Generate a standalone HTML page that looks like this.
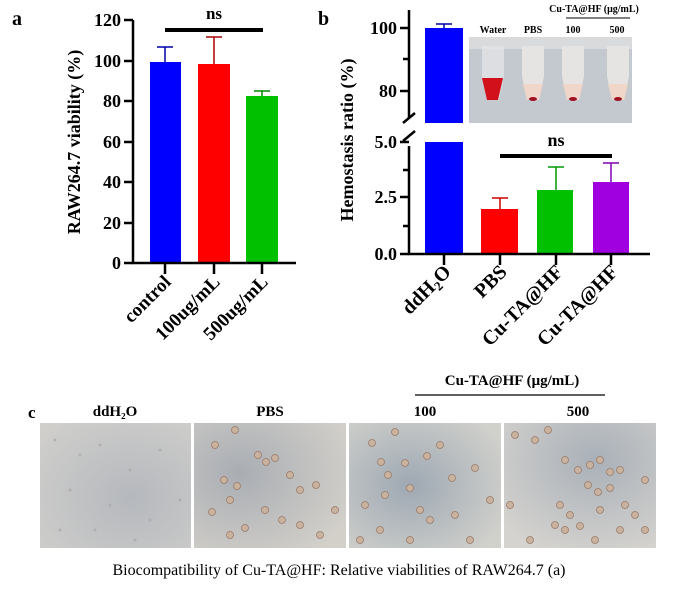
<!DOCTYPE html>
<html><head><meta charset="utf-8"><style>
body{margin:0;background:#fff}
svg{display:block;font-family:"Liberation Serif",serif}
</style></head><body>
<svg width="678" height="592" viewBox="0 0 678 592" xmlns="http://www.w3.org/2000/svg">
<defs>
<radialGradient id="bg1" cx="0.6" cy="0.6" r="0.8"><stop offset="0" stop-color="#b5b8bd"/><stop offset="1" stop-color="#d0cfcc"/></radialGradient>
<radialGradient id="bg2" cx="0.3" cy="0.4" r="0.8"><stop offset="0" stop-color="#a9adb3"/><stop offset="1" stop-color="#d3d0ca"/></radialGradient>
<radialGradient id="bg3" cx="0.4" cy="0.5" r="0.7"><stop offset="0" stop-color="#9ea8b3"/><stop offset="1" stop-color="#d1d1cc"/></radialGradient>
<radialGradient id="bg4" cx="0.6" cy="0.3" r="0.8"><stop offset="0" stop-color="#a9b0b8"/><stop offset="1" stop-color="#d5d3cf"/></radialGradient>
</defs>
<g font-weight="bold" fill="#000">
<text x="12" y="25" font-size="20">a</text>
<text x="214" y="19" font-size="17" text-anchor="middle">ns</text>
<line x1="165" y1="30" x2="263" y2="30" stroke="#000" stroke-width="4"/>
<rect x="150" y="62" width="31" height="201" fill="#0000ff"/>
<rect x="198" y="64" width="32" height="199" fill="#ff0000"/>
<rect x="246" y="96" width="32" height="167" fill="#00c000"/>
<g stroke-width="1.5" fill="none">
<path d="M165 62V47M157 47H173" stroke="#0000aa"/>
<path d="M214 64V37M206 37H222" stroke="#aa0000"/>
<path d="M262 96V91M254 91H270" stroke="#008800"/>
</g>
<g stroke="#000" stroke-width="2.5" fill="none">
<path d="M133 20V263H296"/>
<path d="M124 20H133M124 61H133M124 101H133M124 142H133M124 182H133M124 223H133M124 263H133"/>
<path d="M165 263V274M214 263V274M262 263V274"/>
</g>
<g font-size="18" text-anchor="end">
<text x="121" y="26">120</text><text x="121" y="67">100</text><text x="121" y="107">80</text>
<text x="121" y="148">60</text><text x="121" y="188">40</text><text x="121" y="229">20</text><text x="121" y="269">0</text>
</g>
<text transform="translate(80,142) rotate(-90)" font-size="18" text-anchor="middle">RAW264.7 viability (%)</text>
<g font-size="19" text-anchor="end">
<text transform="translate(172,283) rotate(-45)">control</text>
<text transform="translate(221,283) rotate(-45)">100ug/mL</text>
<text transform="translate(269,283) rotate(-45)">500ug/mL</text>
</g>
<text x="318" y="25" font-size="20">b</text>
<rect x="425" y="28" width="38" height="95" fill="#0000ff"/>
<rect x="425" y="142" width="38" height="112" fill="#0000ff"/>
<path d="M444 28V24M436 24H452" stroke="#0000aa" stroke-width="1.5"/>
<rect x="481" y="209" width="37" height="45" fill="#ff0000"/>
<rect x="537" y="190" width="36" height="64" fill="#00c000"/>
<rect x="593" y="182" width="36" height="72" fill="#a000e0"/>
<g stroke-width="1.5" fill="none">
<path d="M500 209V198M492 198H508" stroke="#cc0000"/>
<path d="M556 190V167M548 167H564" stroke="#009900"/>
<path d="M611 182V163M603 163H619" stroke="#8000b0"/>
</g>
<text x="556" y="146" font-size="18" text-anchor="middle">ns</text>
<line x1="500" y1="156" x2="612" y2="156" stroke="#000" stroke-width="4"/>
<g stroke="#000" stroke-width="2.5" fill="none">
<path d="M409 10V118"/>
<path d="M409 146V254H650"/>
<path d="M403 123L415 113M403 141L415 131"/>
<path d="M400 28H409M403 59H409M400 91H409"/>
<path d="M400 142H409M403 170H409M400 197H409M403 226H409M400 254H409"/>
<path d="M444 254V265M500 254V265M556 254V265M611 254V265"/>
</g>
<g font-size="18" text-anchor="end">
<text x="397" y="34">100</text><text x="397" y="97">80</text>
<text x="397" y="148">5.0</text><text x="397" y="203">2.5</text><text x="397" y="260">0.0</text>
</g>
<text transform="translate(353,140) rotate(-90)" font-size="18" text-anchor="middle">Hemostasis ratio (%)</text>
<g font-size="20" text-anchor="end">
<text transform="translate(452,273) rotate(-45)">ddH<tspan font-size="13" dy="4">2</tspan><tspan dy="-4">O</tspan></text>
<text transform="translate(508,273) rotate(-45)">PBS</text>
<text transform="translate(564,273) rotate(-45)">Cu-TA@HF</text>
<text transform="translate(619,273) rotate(-45)">Cu-TA@HF</text>
</g>
<rect x="469" y="37" width="163" height="86" fill="#c4c9cf"/>
<rect x="469" y="37" width="163" height="12" fill="#d8dadc"/>
<g>
<path d="M482 46h22v30l-5 24h-12l-5-24z" fill="#e2e4e6" opacity="0.8"/>
<path d="M482 78h21l-5 22h-11z" fill="#d2101c"/>
<path d="M522 46h22v30l-5 24h-12l-5-24z" fill="#e6e4e2"/>
<path d="M523 84h20l-4 16h-12z" fill="#efd6c8"/><ellipse cx="533" cy="99" rx="4" ry="2" fill="#a01020"/>
<path d="M562 46h22v30l-5 24h-12l-5-24z" fill="#e6e4e2"/>
<path d="M563 84h20l-4 16h-12z" fill="#efd6c8"/><ellipse cx="573" cy="99" rx="4" ry="2" fill="#a01020"/>
<path d="M607 46h22v30l-5 24h-12l-5-24z" fill="#e6e4e2"/>
<path d="M608 84h20l-4 16h-12z" fill="#efd6c8"/><ellipse cx="618" cy="99" rx="4" ry="2" fill="#a01020"/>
</g>
<g font-size="10" text-anchor="middle">
<text x="493" y="33">Water</text><text x="533" y="33">PBS</text><text x="573" y="33">100</text><text x="617" y="33">500</text>
<text x="594" y="12">Cu-TA@HF (μg/mL)</text>
</g>
<line x1="566" y1="18" x2="630" y2="18" stroke="#000" stroke-width="1"/>
<text x="28" y="418" font-size="17">c</text>
<text x="512" y="385" font-size="15" text-anchor="middle">Cu-TA@HF (μg/mL)</text>
<line x1="415" y1="395" x2="605" y2="395" stroke="#000" stroke-width="1.2"/>
<g font-size="15" text-anchor="middle">
<text x="115" y="416">ddH₂O</text><text x="270" y="416">PBS</text><text x="425" y="416">100</text><text x="578" y="416">500</text>
</g>
</g>
<rect x="40" y="423" width="151" height="125" fill="url(#bg1)"/>
<rect x="194" y="423" width="152" height="125" fill="url(#bg2)"/>
<rect x="349" y="423" width="152" height="125" fill="url(#bg3)"/>
<rect x="504" y="423" width="152" height="125" fill="url(#bg4)"/>
<g fill="#c9b29e" stroke="#9a7a68" stroke-width="0.8">
<circle cx="215" cy="445" r="3.5"/><circle cx="235" cy="430" r="3.5"/><circle cx="258" cy="455" r="3.5"/><circle cx="266" cy="462" r="3.5"/><circle cx="275" cy="458" r="3.5"/><circle cx="224" cy="480" r="3.5"/><circle cx="237" cy="486" r="3.5"/><circle cx="230" cy="500" r="3.5"/><circle cx="290" cy="475" r="3.5"/><circle cx="300" cy="490" r="3.5"/><circle cx="316" cy="485" r="3.5"/><circle cx="265" cy="510" r="3.5"/><circle cx="282" cy="520" r="3.5"/><circle cx="300" cy="525" r="3.5"/><circle cx="230" cy="535" r="3.5"/><circle cx="245" cy="528" r="3.5"/><circle cx="320" cy="535" r="3.5"/><circle cx="335" cy="510" r="3.5"/><circle cx="212" cy="512" r="3.5"/>
<circle cx="372" cy="443" r="3.5"/><circle cx="395" cy="432" r="3.5"/><circle cx="405" cy="463" r="3.5"/><circle cx="381" cy="462" r="3.5"/><circle cx="427" cy="456" r="3.5"/><circle cx="440" cy="445" r="3.5"/><circle cx="388" cy="475" r="3.5"/><circle cx="410" cy="488" r="3.5"/><circle cx="385" cy="495" r="3.5"/><circle cx="452" cy="478" r="3.5"/><circle cx="475" cy="468" r="3.5"/><circle cx="365" cy="505" r="3.5"/><circle cx="420" cy="510" r="3.5"/><circle cx="430" cy="520" r="3.5"/><circle cx="455" cy="515" r="3.5"/><circle cx="380" cy="530" r="3.5"/><circle cx="360" cy="540" r="3.5"/><circle cx="410" cy="540" r="3.5"/><circle cx="490" cy="500" r="3.5"/><circle cx="470" cy="540" r="3.5"/>
<circle cx="515" cy="435" r="3.5"/><circle cx="535" cy="440" r="3.5"/><circle cx="548" cy="430" r="3.5"/><circle cx="565" cy="460" r="3.5"/><circle cx="578" cy="470" r="3.5"/><circle cx="590" cy="465" r="3.5"/><circle cx="600" cy="460" r="3.5"/><circle cx="610" cy="472" r="3.5"/><circle cx="620" cy="470" r="3.5"/><circle cx="588" cy="485" r="3.5"/><circle cx="598" cy="492" r="3.5"/><circle cx="610" cy="488" r="3.5"/><circle cx="645" cy="480" r="3.5"/><circle cx="560" cy="505" r="3.5"/><circle cx="570" cy="515" r="3.5"/><circle cx="600" cy="510" r="3.5"/><circle cx="625" cy="505" r="3.5"/><circle cx="635" cy="515" r="3.5"/><circle cx="555" cy="525" r="3.5"/><circle cx="565" cy="530" r="3.5"/><circle cx="580" cy="526" r="3.5"/><circle cx="620" cy="530" r="3.5"/><circle cx="645" cy="530" r="3.5"/><circle cx="530" cy="540" r="3.5"/><circle cx="595" cy="540" r="3.5"/><circle cx="510" cy="505" r="3.5"/>
</g>
<g fill="#a8a6a4" opacity="0.7">
<circle cx="55" cy="440" r="1.5"/><circle cx="80" cy="455" r="1.5"/><circle cx="100" cy="445" r="1.5"/><circle cx="130" cy="470" r="1.5"/><circle cx="160" cy="450" r="1.5"/><circle cx="70" cy="490" r="1.5"/><circle cx="110" cy="505" r="1.5"/><circle cx="150" cy="520" r="1.5"/><circle cx="60" cy="530" r="1.5"/><circle cx="180" cy="500" r="1.5"/><circle cx="95" cy="530" r="1.5"/><circle cx="135" cy="540" r="1.5"/>
</g>
<text x="339" y="575" font-size="16" text-anchor="middle" font-family="Liberation Serif,serif">Biocompatibility of Cu-TA@HF:  Relative viabilities of RAW264.7  (a)</text>
</svg>
</body></html>
